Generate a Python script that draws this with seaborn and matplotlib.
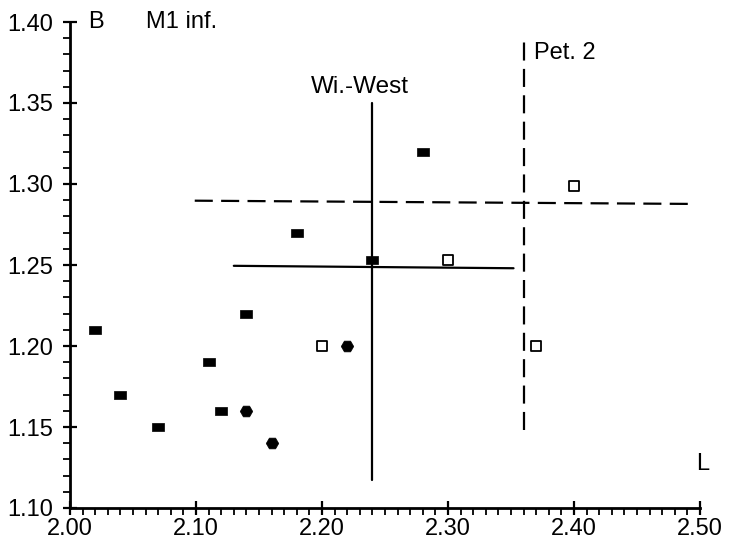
import matplotlib
matplotlib.use("Agg")
import matplotlib.pyplot as plt
import seaborn as sns
import pandas as pd
from matplotlib.ticker import MultipleLocator, FormatStrFormatter

sns.set_theme(style="white")
plt.rcParams["font.family"] = ["Liberation Sans", "DejaVu Sans"]
plt.rcParams["lines.scale_dashes"] = False
plt.rcParams["text.color"] = "black"

# Length (L) and breadth (B) of lower M1 specimens
solid_L = [2.02, 2.04, 2.07, 2.11, 2.12, 2.14, 2.18, 2.24, 2.28]
solid_B = [1.21, 1.17, 1.15, 1.19, 1.16, 1.22, 1.27, 1.253, 1.32]

hex_L = [2.14, 2.16, 2.22]
hex_B = [1.16, 1.14, 1.20]

open_L = [2.20, 2.30, 2.37, 2.40]
open_B = [1.20, 1.253, 1.20, 1.299]

# Range crosses of comparison samples
wiwest_v_L = [2.24, 2.24]
wiwest_v_B = [1.117, 1.35]
wiwest_h_L = [2.13, 2.352]
wiwest_h_B = [1.2495, 1.248]

pet2_v_L = [2.36, 2.36]
pet2_v_B = [1.148, 1.388]
pet2_h_L = [2.099, 2.494]
pet2_h_B = [1.2897, 1.2877]

x_ticks = [2.00, 2.10, 2.20, 2.30, 2.40, 2.50]
y_ticks = [1.10, 1.15, 1.20, 1.25, 1.30, 1.35, 1.40]

fig = plt.figure(figsize=(7.34, 5.44), dpi=100)
ax = fig.add_axes([70 / 734, 1 - 508 / 544, 630 / 734, 486 / 544])

rect = [(-1, -0.6), (1, -0.6), (1, 0.6), (-1, 0.6), (-1, -0.6)]

df_solid = pd.DataFrame({"L": solid_L, "B": solid_B})
df_hex = pd.DataFrame({"L": hex_L, "B": hex_B})
df_open = pd.DataFrame({"L": open_L, "B": open_B})

sns.scatterplot(data=df_solid, x="L", y="B", ax=ax, marker=rect, s=85,
                color="black", edgecolor="black", linewidth=0.5, zorder=4)
sns.scatterplot(data=df_hex, x="L", y="B", ax=ax, marker="H", s=80,
                color="black", edgecolor="black", linewidth=0.5, zorder=4)
sns.scatterplot(data=df_open, x="L", y="B", ax=ax, marker="s", s=45,
                facecolor="white", edgecolor="black", linewidth=1.3, zorder=4)

line_kw = dict(color="black", lw=1.6, zorder=3)
ax.plot(wiwest_v_L, wiwest_v_B, **line_kw)
ax.plot(wiwest_h_L, wiwest_h_B, **line_kw)
ax.plot(pet2_v_L, pet2_v_B, linestyle=(0, (13, 6)), **line_kw)
ax.plot(pet2_h_L, pet2_h_B, linestyle=(0, (13, 6)), **line_kw)

ax.set_xlim(2.00, 2.50)
ax.set_ylim(1.10, 1.40)
ax.set_xticks(x_ticks)
ax.set_yticks(y_ticks)
ax.xaxis.set_minor_locator(MultipleLocator(0.01))
ax.yaxis.set_minor_locator(MultipleLocator(0.01))
ax.xaxis.set_major_formatter(FormatStrFormatter("%.2f"))
ax.yaxis.set_major_formatter(FormatStrFormatter("%.2f"))
ax.tick_params(axis="both", which="major", direction="inout", length=10,
               width=1.6, color="black", labelsize=17, labelcolor="black")
ax.tick_params(axis="y", which="major", pad=7)
ax.tick_params(axis="x", which="major", pad=2)
ax.tick_params(axis="both", which="minor", direction="out", length=5,
               width=1.3, color="black")
ax.tick_params(axis="both", which="both", bottom=True, left=True)

for side in ["top", "right"]:
    ax.spines[side].set_visible(False)
for side in ["left", "bottom"]:
    ax.spines[side].set_color("black")
    ax.spines[side].set_linewidth(2)

ax.set_xlabel("")
ax.set_ylabel("")
for coll in ax.collections:
    coll.set_clip_on(False)

ax.text(2.014, 1.40, "B", fontsize=17, ha="left", va="center")
ax.text(2.502, 1.1204, "L", fontsize=17, ha="center", va="bottom")
ax.text(2.06, 1.40, "M1 inf.", fontsize=17, ha="left", va="center")
ax.text(2.23, 1.360, "Wi.-West", fontsize=17.5, ha="center", va="center")
ax.text(2.368, 1.381, "Pet. 2", fontsize=17, ha="left", va="center")

fig.savefig("out.png", dpi=100, facecolor="white")
